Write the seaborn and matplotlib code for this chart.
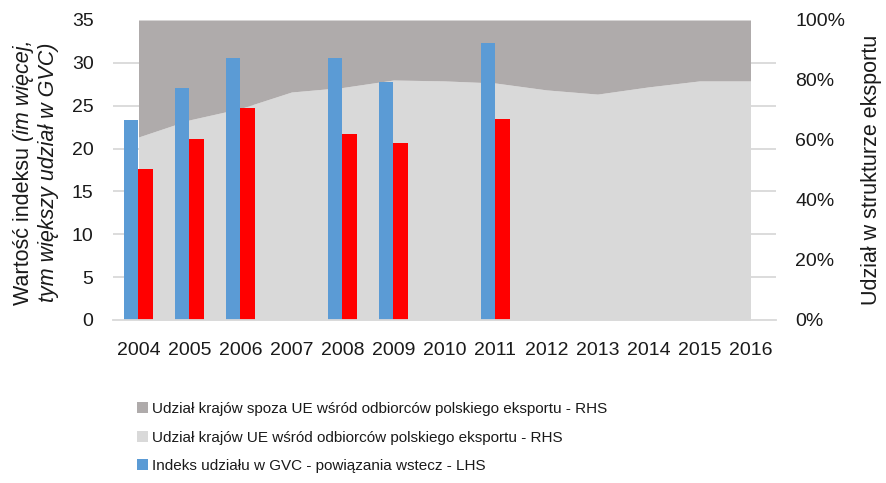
import numpy as np
import pandas as pd
import matplotlib
matplotlib.use("Agg")
import matplotlib.pyplot as plt
from matplotlib.ticker import FixedLocator, PercentFormatter
import seaborn as sns

# ========== data ==========
years = ['2004', '2005', '2006', '2007', '2008', '2009', '2010',
         '2011', '2012', '2013', '2014', '2015', '2016']
# export structure shares (%), right axis
eu_share = [61.0, 66.7, 70.5, 76.0, 77.5, 80.0, 79.7, 79.0, 76.7, 75.3, 77.7, 79.7, 79.7]
non_eu_share = [39.0, 33.3, 29.5, 24.0, 22.5, 20.0, 20.3, 21.0, 23.3, 24.7, 22.3, 20.3, 20.3]
# GVC index, left axis (only years with data)
bar_years = ['2004', '2005', '2006', '2008', '2009', '2011']
gvc_backward = [23.3, 27.1, 30.6, 30.6, 27.8, 32.3]
gvc_red = [17.6, 21.1, 24.7, 21.7, 20.6, 23.4]

lbl_non_eu = 'Udział krajów spoza UE wśród odbiorców polskiego eksportu - RHS'
lbl_eu = 'Udział krajów UE wśród odbiorców polskiego eksportu - RHS'
lbl_back = 'Indeks udziału w GVC - powiązania wstecz - LHS'
lbl_red = 'Indeks udziału w GVC - LHS'

c_blue = '#5B9BD5'
c_red = '#FF0000'
c_dark = '#AFABAB'
c_light = '#D9D9D9'
c_grid = '#D9D9D9'
c_text = '#1a1a1a'

sns.set_style('white')
plt.rcParams['font.family'] = ['Liberation Sans', 'DejaVu Sans']
plt.rcParams['axes.axisbelow'] = True
plt.rcParams['text.color'] = c_text
plt.rcParams['xtick.color'] = c_text
plt.rcParams['ytick.color'] = c_text
plt.rcParams['axes.labelcolor'] = c_text

df = pd.DataFrame({
    'year': bar_years * 2,
    'series': [lbl_back] * len(bar_years) + [lbl_red] * len(bar_years),
    'value': gvc_backward + gvc_red,
})

W, H = 887, 483
fig = plt.figure(figsize=(W / 100, H / 100), dpi=100)
ax = fig.add_axes([113 / W, 1 - 320 / H, 663 / W, 300 / H])
ax2 = ax.twinx()

# ========== areas (RHS) ==========
x = np.arange(len(years))
areas = ax2.stackplot(x, eu_share, non_eu_share, colors=[c_light, c_dark],
                      labels=[lbl_eu, lbl_non_eu], linewidth=0, zorder=1)
ax2.set_ylim(0, 100)
ax2.set_yticks(np.arange(0, 101, 20))
ax2.yaxis.set_major_formatter(PercentFormatter(decimals=0))
# gridlines matching the left axis steps, drawn behind the areas
ax2.yaxis.set_minor_locator(FixedLocator(np.arange(8) * 100 / 7))
ax2.grid(which='minor', axis='y', color=c_grid, linewidth=1.3)
ax2.grid(which='major', visible=False)
ax2.tick_params(which='both', length=0, labelsize=14, pad=14)
ax2.set_ylabel('Udział w strukturze eksportu', fontsize=15.5, labelpad=11)

# ========== bars (LHS) ==========
ax.set_zorder(ax2.get_zorder() + 1)
ax.patch.set_visible(False)
sns.barplot(data=df, x='year', y='value', hue='series', order=years,
            hue_order=[lbl_back, lbl_red], palette=[c_blue, c_red],
            width=0.57, saturation=1, legend=False, linewidth=0,
            edgecolor='none', ax=ax)
ax.set_xlim(-0.5, len(years) - 0.5)
ax.set_ylim(0, 35)
ax.set_yticks(np.arange(0, 36, 5))
ax.set_xlabel('')
ax.set_ylabel('')
ax.tick_params(length=0, labelsize=14)
ax.tick_params(axis='y', pad=14)
ax.tick_params(axis='x', pad=16)
for s in ['top', 'left', 'right']:
    ax.spines[s].set_visible(False)
    ax2.spines[s].set_visible(False)
ax.spines['bottom'].set_color(c_grid)
ax.spines['bottom'].set_linewidth(1.3)
ax2.spines['bottom'].set_visible(False)

# left axis title: first line partly upright, partly italic; second line italic
fs_lab = 15.5
y_mid = 1 - 172 / H
t_a = fig.text(0, 0, 'Wartość indeksu ', fontsize=fs_lab, rotation=90,
               rotation_mode='anchor', ha='left', va='center')
t_b = fig.text(0, 0, '(im więcej,', fontsize=fs_lab, style='italic', rotation=90,
               rotation_mode='anchor', ha='left', va='center')
r = fig.canvas.get_renderer()
len_a = t_a.get_window_extent(r).height / H
len_b = t_b.get_window_extent(r).height / H
y0 = y_mid - (len_a + len_b) / 2
t_a.set_position((24 / W, y0))
t_b.set_position((24 / W, y0 + len_a))
fig.text(49 / W, y_mid, 'tym większy udział w GVC)', fontsize=fs_lab, style='italic',
         rotation=90, rotation_mode='anchor', ha='center', va='center')

# ========== legend ==========
handles = [areas[1], areas[0], ax.containers[0]]
labels = [lbl_non_eu, lbl_eu, lbl_back]
fig.legend(handles, labels, loc='upper left', bbox_to_anchor=(131 / W, 1 - 396 / H),
           frameon=False, fontsize=11, handlelength=0.7, handleheight=0.7,
           handletextpad=0.25, labelspacing=0.95, borderaxespad=0)

fig.savefig('out.png', dpi=100)
plt.close(fig)
